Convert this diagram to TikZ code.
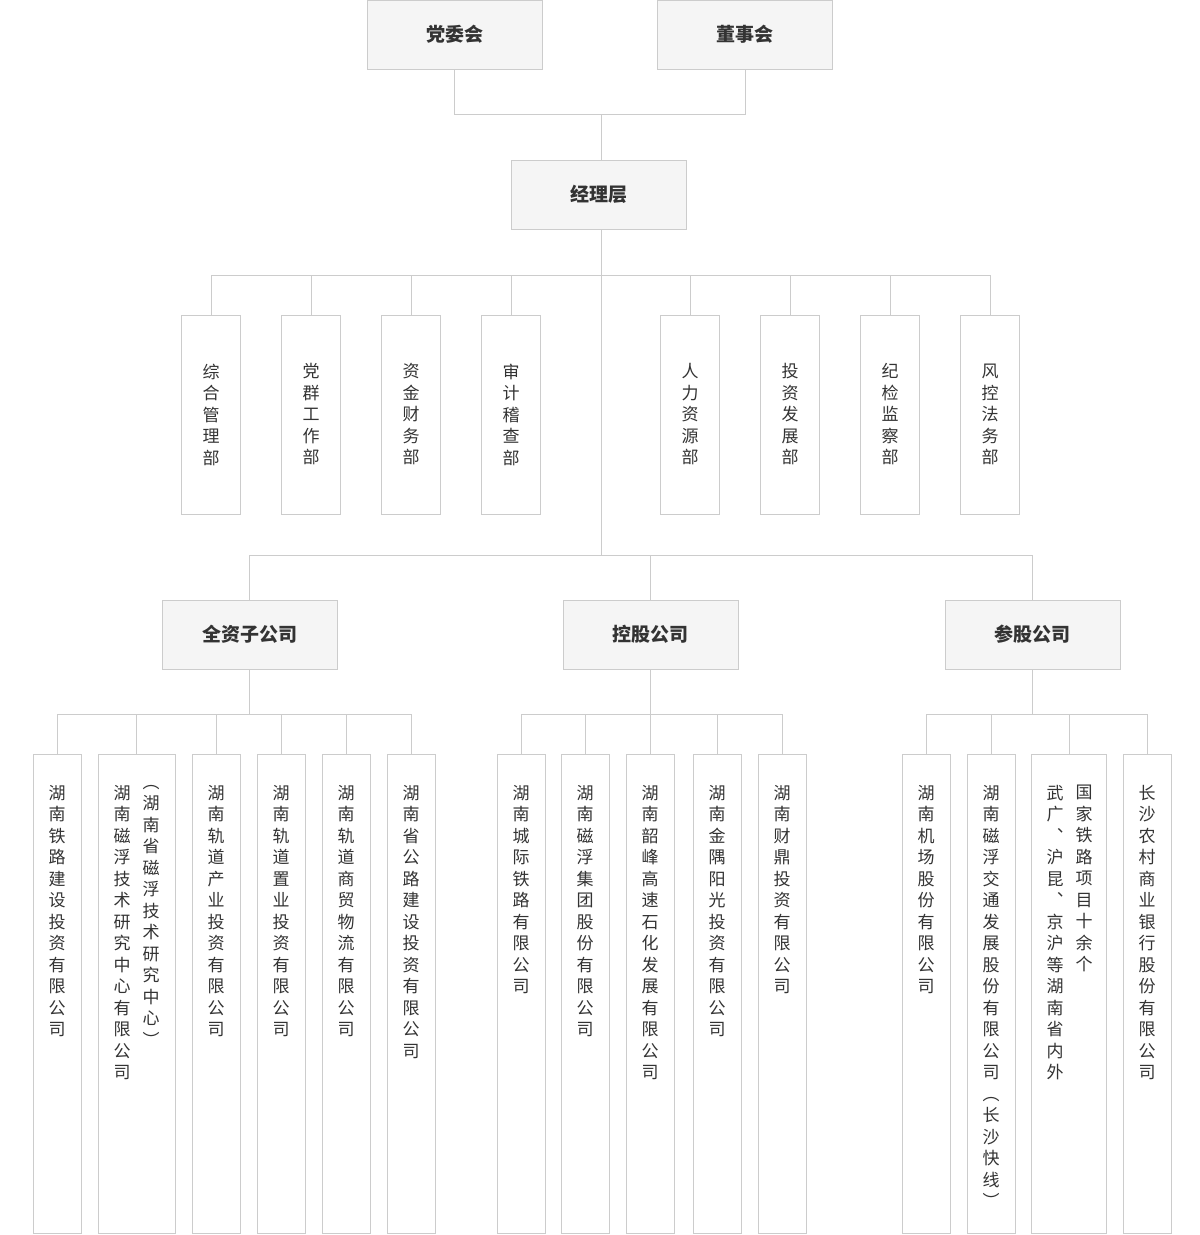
\documentclass[tikz,border=0pt]{standalone}
\usepackage{fontspec}
\newfontfamily\cjk{Noto Sans CJK SC}
\makeatletter
\def\vt#1{\vbox{\baselineskip=21.5pt\@tfor\c:=#1\do{\hbox to 18pt{\hss\c\hss}}}}
\makeatother
\definecolor{ln}{HTML}{CCCCCC}
\definecolor{tx}{HTML}{333333}
\definecolor{hf}{HTML}{F5F5F5}
\begin{document}
\begin{tikzpicture}[x=1pt,y=-1pt,
 hbox/.style={draw=ln,fill=hf,minimum width=175,minimum height=69,inner sep=0,font=\cjk\fontsize{19}{19}\selectfont\bfseries,text=tx},
 dbox/.style={draw=ln,fill=white,minimum width=59,minimum height=199,inner sep=0},
 lbox/.style={draw=ln,fill=white,minimum height=479,inner sep=0},
 vtxt/.style={inner sep=0,font=\cjk\fontsize{17}{17}\selectfont,text=tx},
 conn/.style={draw=ln,line width=0.8pt}]
\useasboundingbox (0,0) rectangle (1200,1235);
% top
\node[hbox] (dw) at (454.5,34.5) {党委会};
\node[hbox] (ds) at (745,34.5) {董事会};
\node[hbox] (jl) at (598.5,194.5) {经理层};
\coordinate (j1) at (601,114);
\draw[conn] (dw.south) |- (j1);
\draw[conn] (ds.south) |- (j1);
\draw[conn] (j1) -- (601,160);
% departments
\coordinate (b2) at (601,275);
\coordinate (b3) at (601,555);
\draw[conn] (601,229) -- (b3);
\foreach \x/\t [count=\i] in {211/综合管理部,311/党群工作部,411/资金财务部,511/审计稽查部,690/人力资源部,790/投资发展部,890/纪检监察部,990/风控法务部}{
  \node[dbox] (d\i) at (\x,414.5) {};
  \node[vtxt] at (\x,414.5) {\expandafter\vt\expandafter{\t}};
  \draw[conn] (d\i.north) |- (b2);
}
% groups
\node[hbox] (g1) at (249.5,634.5) {全资子公司};
\node[hbox] (g2) at (650.5,634.5) {控股公司};
\node[hbox] (g3) at (1032.5,634.5) {参股公司};
\draw[conn] (g1.north) |- (b3);
\draw[conn] (g3.north) |- (b3);
\draw[conn] (g2.north) -- (650.5,555) -- (b3);
\coordinate (c1) at (249.5,714);
\coordinate (c2) at (650.5,714);
\coordinate (c3) at (1032.5,714);
\draw[conn] (g1.south) -- (c1);
\draw[conn] (g2.south) -- (c2);
\draw[conn] (g3.south) -- (c3);
% leaf boxes
\foreach \x/\w/\k [count=\i] in {57/48/1,136.5/77/1,216/48/1,281/48/1,346/48/1,411/48/1,521/48/2,585/48/2,650/48/2,717/48/2,782/48/2,926/48/3,991/48/3,1069/75/3,1147/48/3}{
  \node[lbox,minimum width=\w] (n\i) at (\x,993.5) {};
  \draw[conn] (n\i.north) |- (c\k);
}
\def\tp{785}
\node[vtxt,anchor=north] at (57,\tp) {\vt{湖南铁路建设投资有限公司}};
\node[vtxt,anchor=north] at (122,\tp) {\vt{湖南磁浮技术研究中心有限公司}};
\node[vtxt,anchor=north] at (151,\tp) {\vt{︵湖南省磁浮技术研究中心︶}};
\node[vtxt,anchor=north] at (216,\tp) {\vt{湖南轨道产业投资有限公司}};
\node[vtxt,anchor=north] at (281,\tp) {\vt{湖南轨道置业投资有限公司}};
\node[vtxt,anchor=north] at (346,\tp) {\vt{湖南轨道商贸物流有限公司}};
\node[vtxt,anchor=north] at (411,\tp) {\vt{湖南省公路建设投资有限公司}};
\node[vtxt,anchor=north] at (521,\tp) {\vt{湖南城际铁路有限公司}};
\node[vtxt,anchor=north] at (585,\tp) {\vt{湖南磁浮集团股份有限公司}};
\node[vtxt,anchor=north] at (650,\tp) {\vt{湖南韶峰高速石化发展有限公司}};
\node[vtxt,anchor=north] at (717,\tp) {\vt{湖南金隅阳光投资有限公司}};
\node[vtxt,anchor=north] at (782,\tp) {\vt{湖南财鼎投资有限公司}};
\node[vtxt,anchor=north] at (926,\tp) {\vt{湖南机场股份有限公司}};
\node[vtxt,anchor=north] at (991,\tp) {\vt{湖南磁浮交通发展股份有限公司︵长沙快线︶}};
\node[vtxt,anchor=north] at (1084,\tp) {\vt{国家铁路项目十余个}};
\node[vtxt,anchor=north] at (1055,\tp) {\vt{武广︑沪昆︑京沪等湖南省内外}};
\node[vtxt,anchor=north] at (1147,\tp) {\vt{长沙农村商业银行股份有限公司}};
\end{tikzpicture}
\end{document}
